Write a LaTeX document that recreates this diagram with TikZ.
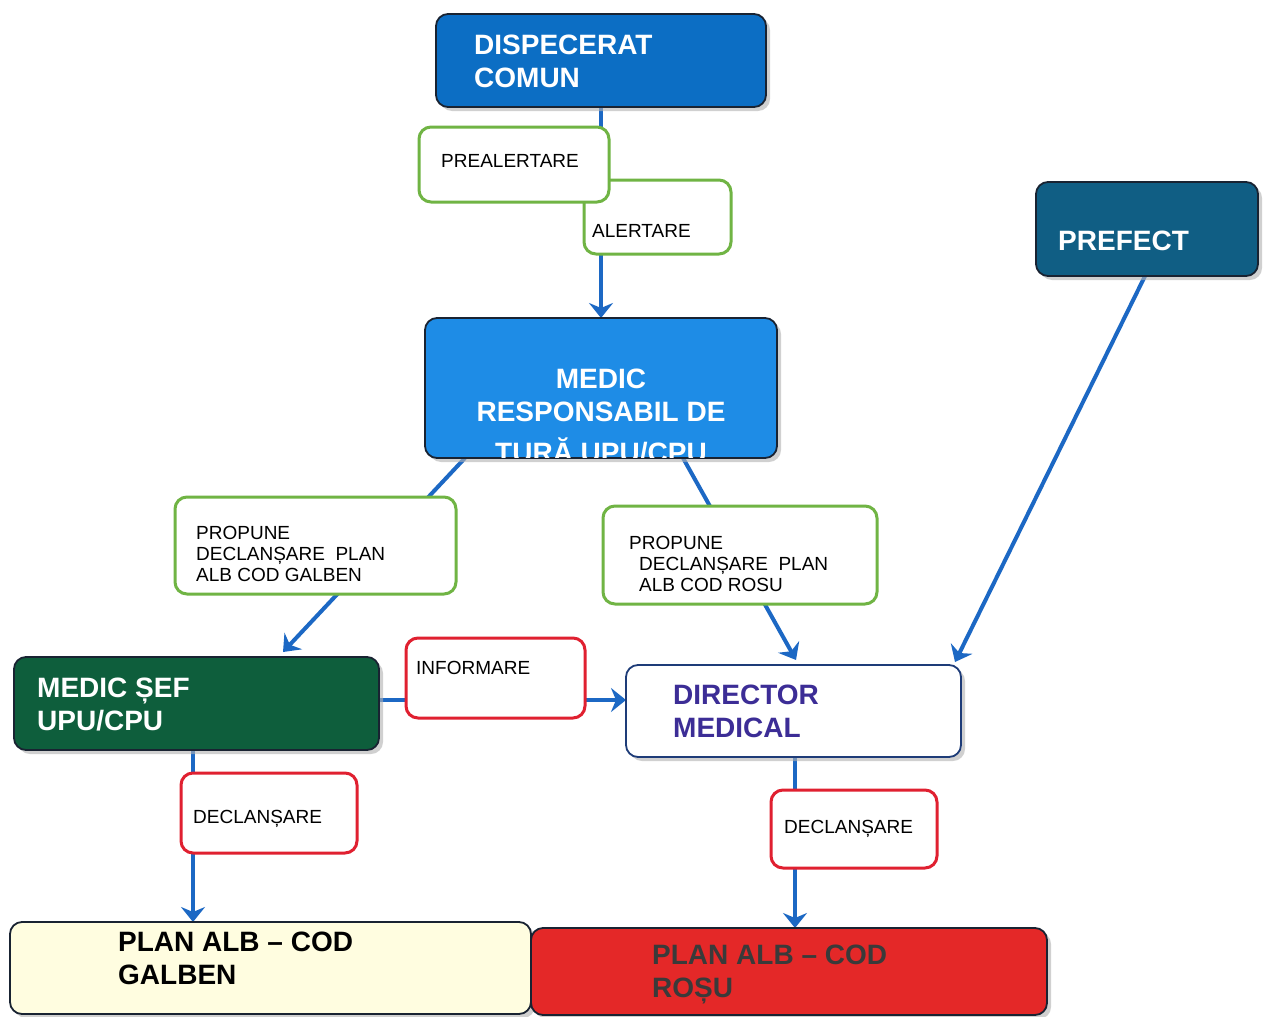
\documentclass[tikz,border=0pt]{standalone}
\usepackage{fontspec}
\setmainfont{Liberation Sans}
\usetikzlibrary{arrows.meta,shadows,calc}
\definecolor{dispfill}{RGB}{12,110,196}
\definecolor{medicfill}{RGB}{30,140,230}
\definecolor{prefectfill}{RGB}{16,94,132}
\definecolor{seffill}{RGB}{14,94,60}
\definecolor{galbenfill}{RGB}{255,253,224}
\definecolor{rosufill}{RGB}{228,40,40}
\definecolor{dirtext}{RGB}{60,45,150}
\definecolor{dirborder}{RGB}{30,60,120}
\definecolor{boxborder}{RGB}{25,35,50}
\definecolor{lblgreen}{RGB}{112,180,68}
\definecolor{lblred}{RGB}{224,32,48}
\definecolor{arrowblue}{RGB}{28,104,196}
\definecolor{rosutext}{RGB}{58,58,58}
\pgfdeclarelayer{bg}
\pgfsetlayers{bg,main}
\begin{document}
\begin{tikzpicture}[x=1pt,y=-1pt,
  sz/.style 2 args={minimum width=#1pt, minimum height=#2pt},
  box/.style={draw=boxborder, line width=1.8pt, rounded corners=12pt, inner sep=0pt, outer sep=0pt, anchor=north west,
    drop shadow={shadow xshift=4pt, shadow yshift=-4pt, fill=gray!60, opacity=0.6}},
  lbl/.style={line width=3pt, fill=white, rounded corners=12pt, inner sep=0pt, outer sep=0pt, anchor=north west},
  greenlbl/.style={lbl, draw=lblgreen},
  redlbl/.style={lbl, draw=lblred},
  big/.style={font=\fontsize{28}{33}\selectfont\bfseries, text=white, inner sep=0pt, anchor=north west, align=left},
  small/.style={font=\fontsize{19}{21}\selectfont, text=black, inner sep=0pt, anchor=north west, align=left},
  arr/.style={draw=arrowblue, line width=4pt, -{Stealth[length=15pt,width=24pt,inset=5pt]}}
]
\useasboundingbox (0,0) rectangle (1264,1017);

% main boxes
\node[box, fill=dispfill, sz={330}{93}] (disp) at (436,14) {};
\node[big] (dispT) at (474,35) {DISPECERAT\\COMUN};

\node[box, fill=medicfill, sz={352}{140}] (medic) at (425,318) {};
\begin{scope}
  \clip[rounded corners=11pt] ($(medic.north west)+(1,1)$) rectangle ($(medic.south east)+(-1,-1)$);
  \node[big, anchor=north, align=center] (medicT) at (601,369) {MEDIC\\RESPONSABIL DE\\[8pt]TURĂ UPU/CPU};
\end{scope}

\node[box, fill=prefectfill, sz={222}{94}] (prefect) at (1036,182) {};
\node[big] (prefectT) at (1058,231) {PREFECT};

\node[box, fill=seffill, sz={365}{93}] (sef) at (14,657) {};
\node[big] (sefT) at (37,678) {MEDIC ȘEF\\UPU/CPU};

\node[box, draw=dirborder, fill=white, sz={335}{92}] (director) at (626,665) {};
\node[big, text=dirtext] (directorT) at (673,685) {DIRECTOR\\MEDICAL};

\node[box, fill=galbenfill, sz={521}{92}] (galben) at (10,922) {};
\node[big, text=black] (galbenT) at (118,932) {PLAN ALB – COD\\GALBEN};

\node[box, fill=rosufill, sz={516}{87}] (rosu) at (531,928) {};
\node[big, text=rosutext] (rosuT) at (652,945) {PLAN ALB – COD\\ROȘU};

% label boxes
\node[greenlbl, sz={147}{74}] (alert) at (584,180) {};
\node[small] (alertT) at (592,224) {ALERTARE};
\node[greenlbl, sz={190}{75}] (preal) at (419,127) {};
\node[small] (prealT) at (441,154) {PREALERTARE};

\node[greenlbl, sz={281}{97}] (propG) at (175,497) {};
\node[small] (propGT) at (196,526) {PROPUNE\\DECLANȘARE~ PLAN\\ALB COD GALBEN};

\node[greenlbl, sz={274}{98}] (propR) at (603,506) {};
\node[small] (propRT) at (629,536) {PROPUNE\\\hspace*{10pt}DECLANȘARE~ PLAN\\\hspace*{10pt}ALB COD ROSU};

\node[redlbl, sz={179}{80}] (info) at (406,638) {};
\node[small] (infoT) at (416,661) {INFORMARE};

\node[redlbl, sz={176}{80}] (declG) at (181,773) {};
\node[small] (declGT) at (193,810) {DECLANȘARE};

\node[redlbl, sz={166}{78}] (declR) at (771,790) {};
\node[small] (declRT) at (784,820) {DECLANȘARE};

% connectors
\begin{pgfonlayer}{bg}
  \fill[white] (0,0) rectangle (1264,1017);
  \draw[arr] (disp.south) -- (medic.north);
  \draw[arr] ($(medic.south west)+(40,0)$) -- ($(sef.north west)+(269,-5)$);
  \draw[arr] ($(medic.south west)+(258,0)$) -- ($(director.north west)+(170,-5)$);
  \draw[arr] ($(prefect.south west)+(109,0)$) -- ($(director.north east)+(-6,-3)$);
  \draw[arr] ($(sef.north east)+(0,43)$) -- ($(director.north west)+(0,35)$);
  \draw[arr] ($(sef.south west)+(179,0)$) -- ($(galben.north west)+(183,0)$);
  \draw[arr] ($(director.south west)+(169,0)$) -- ($(rosu.north west)+(264,0)$);
\end{pgfonlayer}
\end{tikzpicture}
\end{document}
